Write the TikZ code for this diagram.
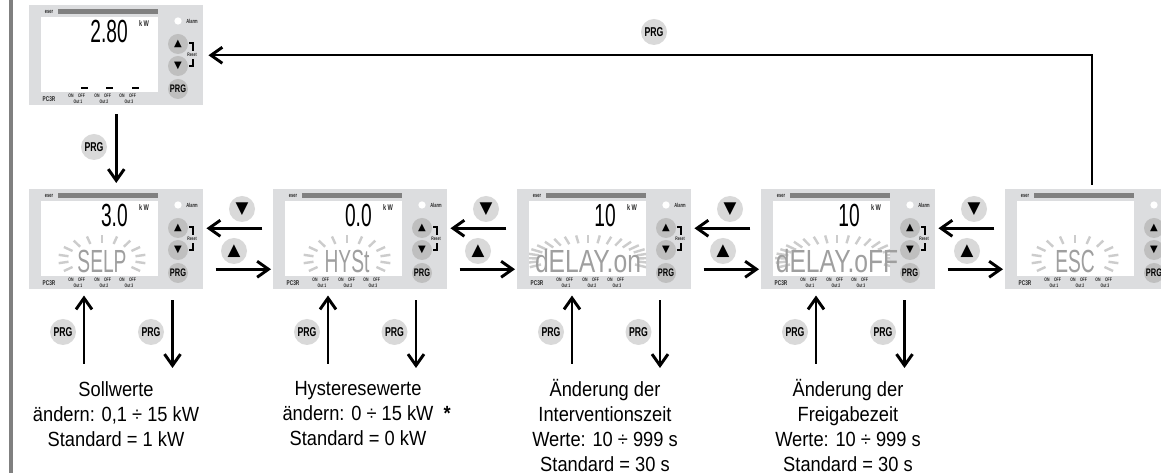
\documentclass[tikz,border=0pt]{standalone}
\usepackage{fontspec}
\usepackage{tikz}
\usetikzlibrary{arrows.meta,positioning}
\setmainfont{Liberation Sans}[FakeStretch=0.89]
\newfontfamily\prgfont{Liberation Sans}[FakeStretch=0.68]
\newfontfamily\lcdfont{Liberation Sans}[FakeStretch=0.6]
\newfontfamily\lcdwide{Liberation Sans}[FakeStretch=0.77]
\newfontfamily\symfont{DejaVu Sans}
\definecolor{panelgray}{HTML}{DCDDDF}
\definecolor{btngray}{HTML}{D9D9D9}
\definecolor{bargray}{HTML}{808080}
\newcommand{\tinybold}[1]{\prgfont\bfseries\fontsize{#1}{#1}\selectfont}
\tikzset{
  panelbox/.style={rectangle,fill=panelgray,minimum width=130.5pt,minimum height=75pt,inner sep=0pt},
  bigbtn/.style={circle,fill=btngray,minimum size=19.5pt,inner sep=0pt},
  keybtn/.style={circle,fill=black!25,minimum size=15pt,inner sep=0pt},
  prgbig/.style={font=\tinybold{9.6}},
  tiny/.style={inner sep=0pt,text=black!85,font=\tinybold{3.8}},
  readout/.style={inner sep=0pt,anchor=east,font=\lcdfont\fontsize{24}{24}\selectfont},
  flash/.style={inner sep=0pt,text=gray!75,font=\lcdfont\fontsize{24}{24}\selectfont},
  sparkle/.style={draw=gray!40,line width=1.8pt},
  bigarrow/.style={-{Straight Barb[length=8.5pt,width=12pt,line width=2.2pt]},line width=2pt},
  textblock/.style={align=center,inner sep=0pt,font=\fontsize{15.4}{18.75}\selectfont},
  pcpanel/.pic={
    \node[panelbox,anchor=north west] (-box) at (0,0) {};
    \fill[white] (12,12) rectangle (129,87);
    \fill[bargray] (29,4) rectangle (129,9);
    \node[tiny,font=\tinybold{4.4}] (-logo) at (20,6.5) {eser};
    \node[circle,fill=white,minimum size=5.5pt,inner sep=0pt] (-led) at (149,16) {};
    \node[tiny,font=\tinybold{4.4}] (-alarm) at (163,16) {Alarm};
    \node[keybtn,font=\symfont\fontsize{7.5}{7.5}\selectfont] (-up) at (149,39) {▲};
    \node[keybtn,font=\symfont\fontsize{7.5}{7.5}\selectfont] (-down) at (149,61) {▼};
    \node[keybtn,font=\tinybold{8.2}] (-prg) at (149,84) {PRG};
    \draw[line width=.8pt] (160,38) -- (164,38) -- (164,46);
    \draw[line width=.8pt] (160,61) -- (164,61) -- (164,54);
    \node[tiny] (-reset) at (163,50) {Reset};
    \node[tiny,font=\tinybold{5.2}] (-name) at (20,94) {PC3R};
    \foreach \i/\xa in {1/42,2/68,3/93} {
      \node[tiny] (-on\i) at (\xa,91) {ON};
      \node[tiny] (-off\i) at (\xa+10.5,91) {OFF};
      \node[tiny] (-out\i) at (\xa+7,97) {Out \i};
    }
  }
}

\begin{document}
\begin{tikzpicture}[x=.75pt,y=-.75pt]
\path[use as bounding box,clip] (0,0) rectangle (1161,473);
\fill[bargray] (9,0) rectangle (12.5,473);
% top panel
\pic (s0) at (29,5) {pcpanel};
\node[readout] (s0-val) at (128,31.5) {2.80};
\foreach \xd in {84,109,135} \fill[black] (\xd-3.5,87.5) rectangle (\xd+3.5,89);
% panel row
\foreach \nm/\xx/\val/\txt/\rx/\ry/\stp/\lim/\cx in {s1/29/3.0/SELP/34/44/20/120/73,s2/273/0.0/HYSt/34/44/20/120/74,s3/517/10/{\lcdwide dELAY.on}/50/62/11/110/71,s4/761/10/{\lcdwide dELAY.oFF}/50/62/11/110/76,s5/1005//ESC/34/44/20/120/70} {
  \pic (\nm) at (\xx,189) {pcpanel};
  \node[readout] (\nm-val) at (\xx+99,215.5) {\val};
  \begin{scope}[shift={(\xx+\cx,259)}]
    \clip (12-\cx,-58) rectangle (129-\cx,17);
    \foreach \t in {0,\stp,...,\lim} {
      \draw[sparkle] (-90+\t:\rx*1 and 16) -- (-90+\t:\ry*1 and 24);
      \draw[sparkle] (-90-\t:\rx*1 and 16) -- (-90-\t:\ry*1 and 24);
    }
  \end{scope}
  \node[flash] (\nm-txt) at (\xx+\cx,261) {\txt};
}
\foreach \nm in {s0,s1,s2,s3,s4}
  \node[tiny,font=\tinybold{6.2}] (\nm-kw) at ([shift={(115,19)}]\nm-box.north west) {k\,W};
% key arrows between panels
\foreach \a/\b/\xd/\xu in {s1/s2/242/234,s2/s3/486/478,s3/s4/730/723,s4/s5/974/967} {
  \draw[bigarrow,shorten <=8pt,shorten >=2.2pt] ([shift={(0,-11)}]\b-box.west) -- ([shift={(0,-11)}]\a-box.east);
  \draw[bigarrow,shorten <=9pt,shorten >=1.5pt] ([shift={(0,30)}]\a-box.east) -- ([shift={(0,30)}]\b-box.west);
  \node[bigbtn,font=\symfont\fontsize{12.5}{12.5}\selectfont] (\a dn) at (\xd,209) {▼};
  \node[bigbtn,font=\symfont\fontsize{12.5}{12.5}\selectfont] (\a up) at (\xu,251) {▲};
}
% PRG arrows
\draw[bigarrow,line width=1.5pt,shorten <=3pt,shorten >=3.7pt] (s5-box.north) |- (s0-box.east);
\node[bigbtn,prgbig] (prgtop) at (654,32) {PRG};
\draw[bigarrow,shorten <=6.7pt,shorten >=4.5pt] (s0-box.south) -- (s1-box.north);
\node[bigbtn,prgbig] (prgs0) at (94,147) {PRG};
\foreach \nm/\xu/\xd in {s1/84/172.5,s2/328/416,s3/572/660,s4/816/904.5} {
  \coordinate (\nm u) at (\xu,364);
  \coordinate (\nm d) at (\xd,368);
  \draw[bigarrow,shorten >=4.5pt] (\nm u) -- (\nm u |- \nm-box.south);
  \draw[bigarrow,shorten <=8pt] (\nm d |- \nm-box.south) -- (\nm d);
  \node[bigbtn,prgbig] (\nm pu) at (\xu-21,332) {PRG};
  \node[bigbtn,prgbig] (\nm pd) at (\xd-21.5,332) {PRG};
}
% labels
\node[textblock] (t1) at (116,414) {Sollwerte\\ändern: 0,1 ÷ 15 kW\\Standard = 1 kW};
\node[textblock] (t2) at (358,414) {Hysteresewerte\\ändern: 0 ÷ 15 kW\rlap{~~\textbf{*}}\\Standard = 0 kW};
\node[textblock] (t3) at (605,426) {Änderung der\\Interventionszeit\\Werte: 10 ÷ 999 s\\Standard = 30 s};
\node[textblock] (t4) at (848,426) {Änderung der\\Freigabezeit\\Werte: 10 ÷ 999 s\\Standard = 30 s};
\end{tikzpicture}
\end{document}
